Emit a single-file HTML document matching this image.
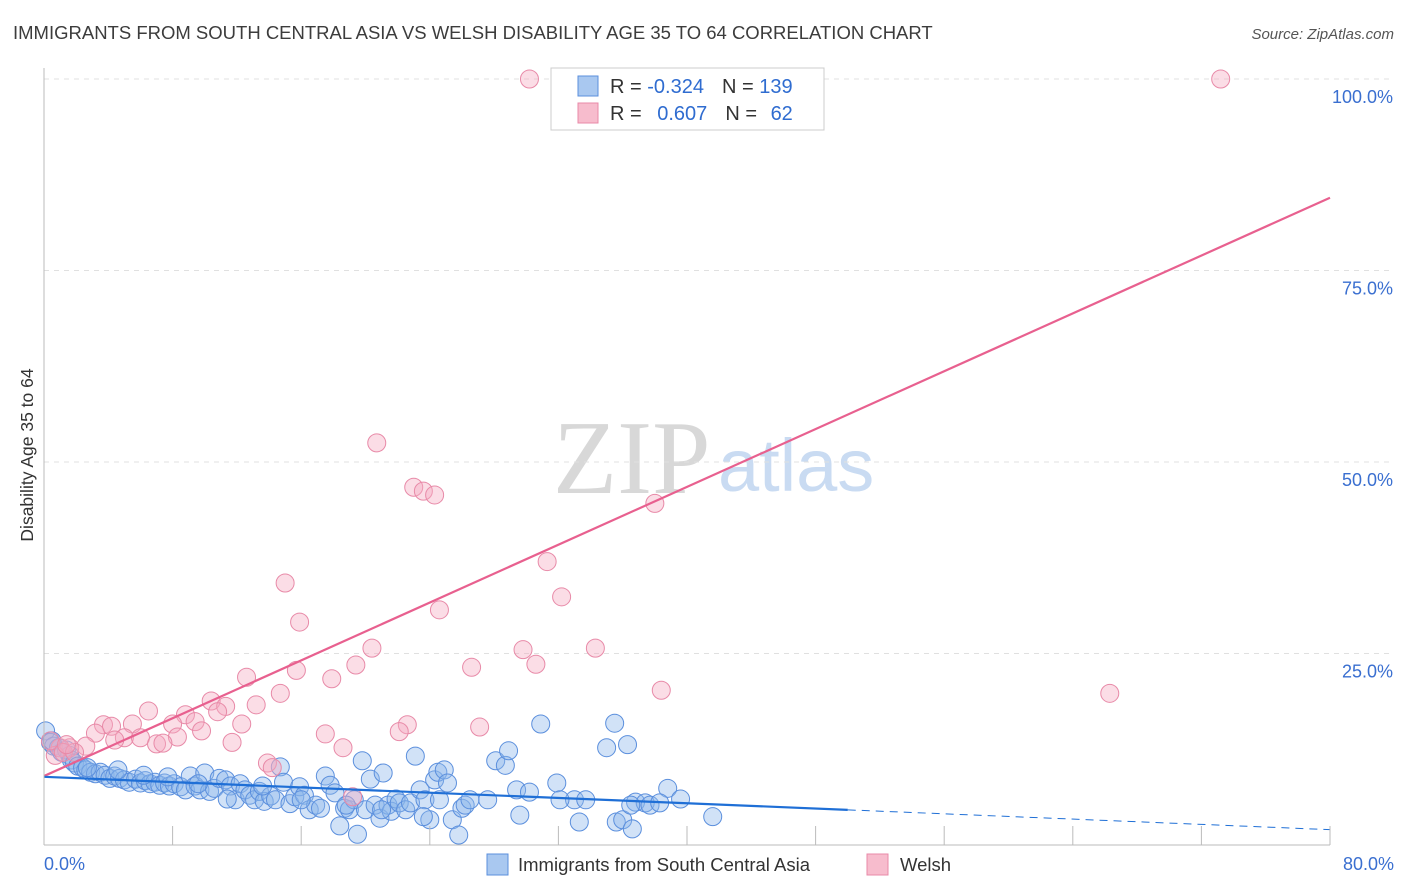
<!DOCTYPE html>
<html><head><meta charset="utf-8"><style>
body{margin:0;background:#fff;font-family:"Liberation Sans",sans-serif;}
svg{display:block}
</style></head><body>
<svg id="chart" width="1406" height="892">
<text x="13" y="39" font-size="18.5" fill="#3c3c3c">IMMIGRANTS FROM SOUTH CENTRAL ASIA VS WELSH DISABILITY AGE 35 TO 64 CORRELATION CHART</text>
<text x="1394" y="39" font-size="15" fill="#555" font-style="italic" text-anchor="end">Source: ZipAtlas.com</text>
<text transform="translate(33,455) rotate(-90)" font-size="17.5" fill="#333" text-anchor="middle">Disability Age 35 to 64</text>
<g>
<text x="553" y="493" font-size="105" font-family="Liberation Serif,serif" fill="#d8d8d8">ZIP</text>
<text x="718" y="491" font-size="74" fill="#c9dbf2">atlas</text>
</g>
<g id="grid"></g>
<g id="marks"></g>
<g id="trends"></g>
<g id="axes"></g>
<g>
<rect x="551" y="68" width="273" height="62" fill="#fff" stroke="#ccc"/>
<rect x="578" y="76" width="20" height="20" fill="#a9c8f0" stroke="#5b8fdd"/>
<rect x="578" y="103" width="20" height="20" fill="#f7bccd" stroke="#e88aa8"/>
<text x="610" y="93" font-size="20" fill="#333">R = <tspan fill="#2f6cd0">-0.324</tspan><tspan dx="18">N = </tspan><tspan fill="#2f6cd0">139</tspan></text>
<text x="610" y="120" font-size="20" fill="#333">R = <tspan fill="#2f6cd0" dx="10">0.607</tspan><tspan dx="18">N = </tspan><tspan fill="#2f6cd0" dx="8">62</tspan></text>
</g>
<g>
<rect x="487" y="854" width="21" height="21" fill="#a9c8f0" stroke="#5b8fdd"/>
<text x="518" y="871" font-size="18.5" fill="#333">Immigrants from South Central Asia</text>
<rect x="867" y="854" width="21" height="21" fill="#f7bccd" stroke="#e88aa8"/>
<text x="900" y="871" font-size="18.5" fill="#333">Welsh</text>
</g>
</svg>
<script>
const yTicks=[25,50,75,100];
const yTickLabels=["25.0%","50.0%","75.0%","100.0%"];
const xTicks=[0,8,16,24,32,40,48,56,64,72,80];
const xEndLabels=["0.0%","80.0%"];
const blueX=[0.1,0.4,0.6,0.9,1.1,1.4,1.6,1.7,1.9,2.1,2.4,2.6,2.9,3.2,3.5,3.8,4.1,4.4,4.7,5.0,5.3,5.7,6.0,6.3,6.6,6.9,7.2,7.5,7.8,8.1,8.5,8.8,9.1,9.4,9.7,10.0,10.3,10.6,10.9,11.3,11.6,11.9,12.2,12.5,12.8,13.1,13.4,13.7,14.1,14.4,14.7,14.9,15.3,15.6,15.9,16.2,16.5,16.9,17.2,17.5,17.8,18.1,18.4,18.7,19.0,19.3,19.5,19.8,20.0,20.3,20.6,20.9,21.1,21.4,21.6,21.9,22.1,22.5,22.8,23.1,23.4,23.7,24.0,24.3,24.5,24.6,24.9,25.1,25.4,25.8,26.0,26.2,27.6,28.1,28.7,28.9,29.4,29.6,30.2,30.9,31.9,33.0,33.3,33.7,35.0,35.5,35.6,36.0,36.3,36.6,36.8,37.4,37.7,38.8,39.6,41.6,0.5,2.7,4.6,6.2,7.7,9.6,11.4,13.6,16.0,18.8,21.0,23.6,26.5,32.1,36.5,38.3];
const blueY=[14.9,13.4,12.9,12.7,12.1,12.4,11.7,11.1,10.7,10.3,10.1,9.8,9.5,9.3,9.5,9.1,8.7,9.0,8.7,8.5,8.2,8.6,8.1,8.4,8.0,8.2,7.8,8.1,7.7,8.0,7.6,7.2,9.0,7.7,7.2,9.4,7.0,7.4,8.7,8.5,7.7,5.9,8.0,7.2,6.5,5.9,7.0,5.7,6.4,5.9,10.2,8.2,5.4,6.3,7.6,6.5,4.6,5.2,4.8,9.0,7.8,6.8,2.5,4.8,4.6,5.9,1.4,11.0,4.6,8.6,5.2,3.5,9.4,5.2,4.4,6.0,5.5,4.6,5.5,11.6,7.2,5.9,3.3,8.5,9.5,5.9,9.8,8.1,3.3,1.3,4.8,5.2,5.9,11.0,10.4,12.3,7.2,3.9,6.9,15.8,8.1,5.9,3.0,5.9,12.7,15.9,3.0,3.3,13.1,2.1,5.6,5.5,5.2,7.4,6.0,3.7,13.6,10.1,9.8,9.1,8.9,8.0,6.0,7.7,5.9,5.2,4.6,3.7,5.9,5.9,5.2,5.5];
const pinkX=[30.2,36.3,73.2,20.7,23.0,23.6,24.3,38.0,31.3,32.2,15.0,24.6,15.9,20.4,29.8,34.3,15.7,19.4,26.6,30.6,12.6,17.9,38.4,66.3,14.7,10.4,11.3,13.2,6.5,10.8,8.8,8.0,9.4,3.7,4.2,5.5,12.3,22.6,27.1,9.8,17.5,8.3,5.0,22.1,11.7,6.0,4.4,7.0,7.4,18.6,3.2,2.6,1.6,1.0,0.7,0.4,13.9,14.2,19.2,1.2,1.9,1.4];
const pinkY=[100,100,100,52.5,46.7,46.2,45.7,44.6,37.0,32.4,34.2,30.7,29.1,25.7,25.5,25.7,22.8,23.5,23.2,23.6,21.9,21.7,20.2,19.8,19.8,18.8,18.1,18.3,17.5,17.4,17.0,15.8,16.1,15.7,15.5,15.8,15.8,15.7,15.4,14.9,14.5,14.1,14.0,14.8,13.4,14.0,13.7,13.2,13.3,12.7,14.6,12.9,12.7,12.7,11.7,13.6,10.7,10.1,6.3,12.1,12.1,13.1];
const pinkTrend=[0,9.0,80,84.5];
const blueTrend=[0,8.9,80,2.0];
const blueSolidEnd=50;

const NS="http://www.w3.org/2000/svg";
const X0=44,X1=1330,Y0=845,Y100=79;
function sx(v){return X0+(X1-X0)*v/80;}
function sy(v){return Y0-(Y0-Y100)*v/100;}
function mk(tag,attrs,parent){const e=document.createElementNS(NS,tag);for(const k in attrs)e.setAttribute(k,attrs[k]);parent.appendChild(e);return e;}
const grid=document.getElementById('grid'),axes=document.getElementById('axes'),marks=document.getElementById('marks'),trends=document.getElementById('trends');
yTicks.forEach((t,i)=>{
 const l=mk('line',{x1:X0,x2:1394,y1:sy(t),y2:sy(t),stroke:'#e0e0e0','stroke-dasharray':'5,5'},grid);
 
 
 const tx=mk('text',{x:1393,y:sy(t)+24,'font-size':18,fill:'#3a6fd0','text-anchor':'end'},axes);
 tx.textContent=yTickLabels[i];
 
 
});
const ya=mk('line',{x1:X0,x2:X0,y1:68,y2:Y0,stroke:'#bbb'},axes);


const xa=mk('line',{x1:X0,x2:X1,y1:Y0,y2:Y0,stroke:'#bbb'},axes);


xTicks.forEach(t=>{
 const l=mk('line',{x1:sx(t),x2:sx(t),y1:Y0-19,y2:Y0,stroke:'#bbb'},axes);
 
 
});
[[0,'start',44],[80,'end',1394]].forEach((d,i)=>{
 const tx=mk('text',{x:d[2],y:870,'font-size':18,fill:'#3a6fd0','text-anchor':d[1]},axes);
 tx.textContent=xEndLabels[i];
 
 
});
blueX.forEach((v,i)=>{
 const c=mk('circle',{cx:sx(v),cy:sy(blueY[i]),r:9,fill:'rgba(140,182,236,0.4)',stroke:'#5b8fdd','stroke-width':1},marks);
 
 
});
pinkX.forEach((v,i)=>{
 const c=mk('circle',{cx:sx(v),cy:sy(pinkY[i]),r:9,fill:'rgba(244,170,192,0.4)',stroke:'#e88aa8','stroke-width':1},marks);
 
 
});
const pl=mk('line',{x1:sx(pinkTrend[0]),y1:sy(pinkTrend[1]),x2:sx(pinkTrend[2]),y2:sy(pinkTrend[3]),stroke:'#e8608f','stroke-width':2.2},trends);


function by(x){return blueTrend[1]+(blueTrend[3]-blueTrend[1])*(x-blueTrend[0])/(blueTrend[2]-blueTrend[0]);}
const bl=mk('line',{x1:sx(blueTrend[0]),y1:sy(blueTrend[1]),x2:sx(blueSolidEnd),y2:sy(by(blueSolidEnd)),stroke:'#1f6fd6','stroke-width':2.2},trends);


const bd=mk('line',{x1:sx(blueSolidEnd),y1:sy(by(blueSolidEnd)),x2:sx(blueTrend[2]),y2:sy(blueTrend[3]),stroke:'#1f6fd6','stroke-width':1,'stroke-dasharray':'8,6'},trends);


</script>
</body></html>
